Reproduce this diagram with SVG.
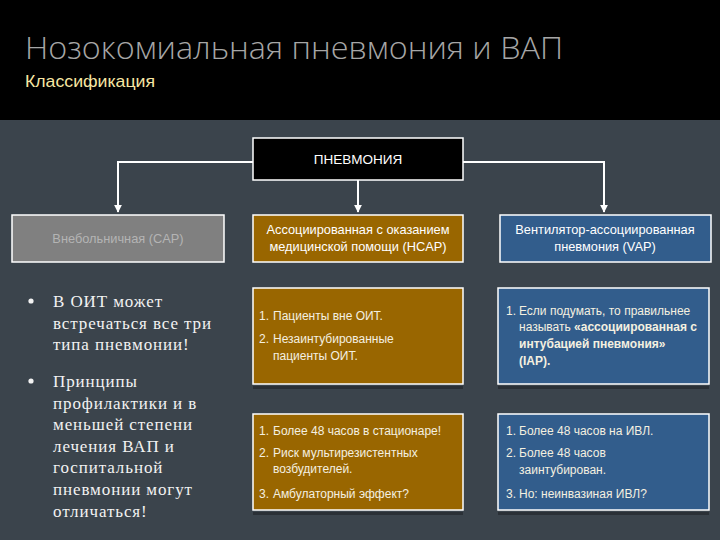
<svg xmlns="http://www.w3.org/2000/svg" width="720" height="540" viewBox="0 0 720 540">
<defs>
<marker id="arr" viewBox="0 0 10 10" refX="9" refY="5" markerWidth="4" markerHeight="4" orient="auto">
<path d="M0,0 L10,5 L0,10 z" fill="#ffffff"/>
</marker>
<style>
.box{stroke:#ffffff;stroke-width:1.5}
.gold{fill:#996600}
.blue{fill:#325d8c}
.t{font-family:"Liberation Sans",Arial,sans-serif;font-size:12px;fill:#f4f0e0}
.tb{font-family:"Liberation Sans",Arial,sans-serif;font-size:12.8px;fill:#ffffff}
.b{font-weight:bold}
.ser{font-family:"Liberation Serif","DejaVu Serif",serif;font-size:17px;letter-spacing:0.9px;fill:#f2f2f2}
.shadow{fill:#2a3036}
</style>
</defs>
<rect x="0" y="0" width="720" height="540" fill="#3b444c"/>
<rect x="0" y="0" width="720" height="120" fill="#000000"/>
<text x="25" y="59" font-family="'Open Sans','Liberation Sans',sans-serif" font-weight="300" font-size="32" fill="#a6a6a6" textLength="538" lengthAdjust="spacingAndGlyphs">Нозокомиальная пневмония и ВАП</text>
<text x="25" y="87" font-family="'Liberation Sans',Arial,sans-serif" font-size="17" fill="#f7e7a4" textLength="130" lengthAdjust="spacingAndGlyphs">Классификация</text>

<g id="connectors" stroke="#ffffff" stroke-width="2" fill="none">
<path d="M253,162 H118 V212" marker-end="url(#arr)"/>
<path d="M358,180 V212" marker-end="url(#arr)"/>
<path d="M463,162 H604 V212" marker-end="url(#arr)"/>
</g>

<g id="pnevmonia">
<rect x="253" y="138" width="210" height="42" fill="#000000" class="box"/>
<text x="358" y="164" text-anchor="middle" font-family="'Liberation Sans',Arial,sans-serif" font-size="13.5" fill="#ffffff">ПНЕВМОНИЯ</text>
</g>

<g id="cap">
<rect x="12" y="215" width="212" height="47" fill="#808080" class="box"/>
<text x="118" y="243" text-anchor="middle" class="tb" style="fill:#b4b4b4">Внебольничная (CAP)</text>
</g>

<g id="hcap">
<rect x="253" y="215" width="210" height="47" class="box gold"/>
<text x="358" y="234" text-anchor="middle" class="tb">Ассоциированная с оказанием</text>
<text x="358" y="251" text-anchor="middle" class="tb">медицинской помощи (HCAP)</text>
</g>

<g id="vap">
<rect x="500" y="215" width="211" height="47" class="box blue"/>
<text x="605" y="234" text-anchor="middle" class="tb">Вентилятор-ассоциированная</text>
<text x="605" y="251" text-anchor="middle" class="tb">пневмония (VAP)</text>
</g>

<g id="bullets">
<circle cx="31" cy="301" r="2.6" fill="#f2f2f2"/>
<text x="53" y="307" class="ser">В ОИТ может</text>
<text x="53" y="329" class="ser">встречаться все три</text>
<text x="53" y="350" class="ser">типа пневмонии!</text>
<circle cx="31" cy="381" r="2.6" fill="#f2f2f2"/>
<text x="53" y="387" class="ser">Принципы</text>
<text x="53" y="409" class="ser">профилактики и в</text>
<text x="53" y="430" class="ser">меньшей степени</text>
<text x="53" y="452" class="ser">лечения ВАП и</text>
<text x="53" y="473" class="ser">госпитальной</text>
<text x="53" y="495" class="ser">пневмонии могут</text>
<text x="53" y="517" class="ser">отличаться!</text>
</g>

<g id="hcap-1">
<rect x="253" y="386" width="210" height="3" class="shadow"/>
<rect x="253" y="288" width="210" height="96" class="box gold"/>
<text x="259" y="320" class="t">1.</text><text x="273" y="320" class="t">Пациенты вне ОИТ.</text>
<text x="259" y="343" class="t">2.</text><text x="273" y="343" class="t">Незаинтубированные</text>
<text x="273" y="360" class="t">пациенты ОИТ.</text>
</g>

<g id="vap-1">
<rect x="498" y="386" width="211" height="3" class="shadow"/>
<rect x="498" y="288" width="211" height="96" class="box blue"/>
<text x="506" y="315" class="t">1.</text><text x="519" y="315" class="t">Если подумать, то правильнее</text>
<text x="519" y="331" class="t">называть <tspan class="b">«ассоциированная с</tspan></text>
<text x="519" y="348" class="t b">интубацией пневмония»</text>
<text x="519" y="365" class="t b">(IAP).</text>
</g>

<g id="hcap-2">
<rect x="253" y="512" width="210" height="3" class="shadow"/>
<rect x="253" y="414" width="210" height="96" class="box gold"/>
<text x="259" y="435" class="t">1.</text><text x="273" y="435" class="t">Более 48 часов в стационаре!</text>
<text x="259" y="457" class="t">2.</text><text x="273" y="457" class="t">Риск мультирезистентных</text>
<text x="273" y="473" class="t">возбудителей.</text>
<text x="259" y="498" class="t">3.</text><text x="273" y="498" class="t">Амбулаторный эффект?</text>
</g>

<g id="vap-2">
<rect x="498" y="512" width="211" height="3" class="shadow"/>
<rect x="498" y="414" width="211" height="96" class="box blue"/>
<text x="506" y="435" class="t">1.</text><text x="519" y="435" class="t">Более 48 часов на ИВЛ.</text>
<text x="506" y="457" class="t">2.</text><text x="519" y="457" class="t">Более 48 часов</text>
<text x="519" y="474" class="t">заинтубирован.</text>
<text x="506" y="498" class="t">3.</text><text x="519" y="498" class="t">Но: неинвазиная ИВЛ?</text>
</g>
</svg>
